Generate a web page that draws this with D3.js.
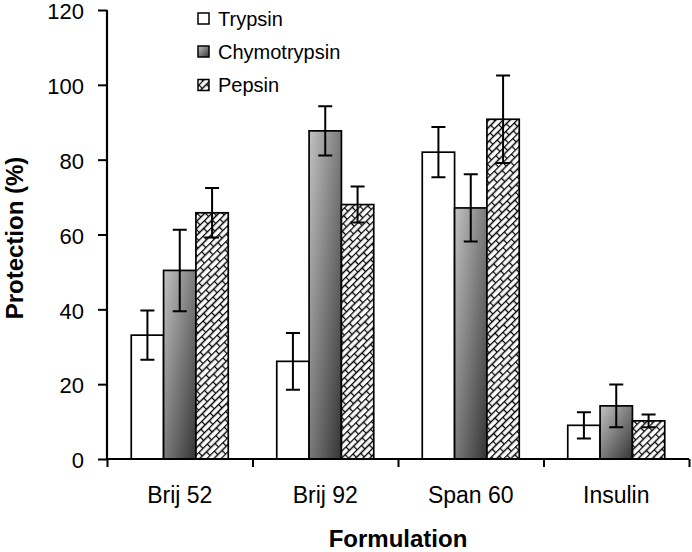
<!DOCTYPE html>
<html>
<head>
<meta charset="utf-8">
<script src="https://cdn.jsdelivr.net/npm/d3@7"></script>
<style>
  html, body { margin: 0; padding: 0; background: #fff; }
  svg { display: block; font-family: "Liberation Sans", Arial, sans-serif; }
</style>
</head>
<body>
<svg id="chart" width="692" height="552"></svg>
<script>
const categories = ["Brij 52", "Brij 92", "Span 60", "Insulin"];
const seriesNames = ["Trypsin", "Chymotrypsin", "Pepsin"];
const trypsin = [33.1, 26.1, 82.0, 9.0];
const trypsinErr = [6.6, 7.6, 6.7, 3.5];
const chymotrypsin = [50.4, 87.7, 67.1, 14.2];
const chymotrypsinErr = [10.9, 6.6, 9.0, 5.7];
const pepsin = [65.8, 68.0, 90.8, 10.2];
const pepsinErr = [6.6, 4.8, 11.7, 1.7];
const yTicks = [0, 20, 40, 60, 80, 100, 120];
const yTitle = "Protection (%)";
const xTitle = "Formulation";

(function () {
const values = [trypsin, chymotrypsin, pepsin];
const errors = [trypsinErr, chymotrypsinErr, pepsinErr];

const svg = d3.select("#chart");
const mLeft = 107, mRight = 689, mTop = 10, mBottom = 459;

const y = d3.scaleLinear().domain([0, 120]).range([mBottom, mTop]);
const x0 = d3.scaleBand().domain(categories).range([mLeft, mRight]).paddingInner(0).paddingOuter(0);
const x1 = d3.scaleBand().domain(seriesNames).range([0, x0.bandwidth()]).paddingInner(0).paddingOuter(0.75);

const defs = svg.append("defs");
const grad = defs.append("linearGradient").attr("id", "chymo")
  .attr("x1", 0).attr("y1", 0).attr("x2", 1).attr("y2", 1);
grad.append("stop").attr("offset", "0%").attr("stop-color", "#c2c2c2");
grad.append("stop").attr("offset", "100%").attr("stop-color", "#343434");

const pat = defs.append("pattern").attr("id", "pepsin")
  .attr("patternUnits", "userSpaceOnUse").attr("width", 12).attr("height", 10)
  .attr("patternTransform", "rotate(-45)");
pat.append("rect").attr("width", 12).attr("height", 10).attr("fill", "#fff");
pat.append("path")
  .attr("d", "M0,0.5H12 M0,5.5H12 M0.5,0.5V5.5 M6.5,5.5V10.5")
  .attr("stroke", "#000").attr("stroke-width", 1.3).attr("fill", "none");

const fills = ["#ffffff", "url(#chymo)", "url(#pepsin)"];

seriesNames.forEach((s, si) => {
  const g = svg.append("g");
  g.selectAll("rect").data(categories).join("rect")
    .attr("x", c => x0(c) + x1(s))
    .attr("y", (c, i) => y(values[si][i]))
    .attr("width", x1.bandwidth())
    .attr("height", (c, i) => y(0) - y(values[si][i]))
    .attr("fill", fills[si])
    .attr("stroke", "#000").attr("stroke-width", 1.7);
});

seriesNames.forEach((s, si) => {
  const g = svg.append("g").attr("stroke", "#000").attr("stroke-width", 2).attr("fill", "none");
  categories.forEach((c, i) => {
    const cx = x0(c) + x1(s) + x1.bandwidth() / 2;
    const hi = y(values[si][i] + errors[si][i]);
    const lo = y(values[si][i] - errors[si][i]);
    g.append("path").attr("d", `M${cx},${hi}V${lo}M${cx - 7},${hi}H${cx + 7}M${cx - 7},${lo}H${cx + 7}`);
  });
});

const yAxis = svg.append("g").attr("transform", `translate(${mLeft},0)`)
  .call(d3.axisLeft(y).tickValues(yTicks).tickSize(9).tickPadding(14));
yAxis.select(".domain").attr("stroke", "#000").attr("stroke-width", 2.2).attr("d", `M0,${mTop}V${mBottom}`);
yAxis.selectAll(".tick line").attr("stroke", "#000").attr("stroke-width", 2);
yAxis.selectAll(".tick text").attr("font-size", 22).attr("fill", "#000").attr("dy", "0.4em")
  .attr("font-family", "Liberation Sans, Arial, sans-serif");

const xb = d3.scaleLinear().domain([0, categories.length]).range([mLeft, mRight]);
const xAxis = svg.append("g").attr("transform", `translate(0,${mBottom})`)
  .call(d3.axisBottom(xb).tickValues(d3.range(0, categories.length + 1)).tickSize(8).tickFormat(""));
xAxis.select(".domain").attr("stroke", "#000").attr("stroke-width", 2.2).attr("d", `M${mLeft},0H${mRight}`);
xAxis.selectAll(".tick line").attr("stroke", "#000").attr("stroke-width", 2);

const xLab = svg.append("g").attr("transform", `translate(0,${mBottom})`)
  .call(d3.axisBottom(x0).tickSize(0).tickPadding(28));
xLab.select(".domain").remove();
xLab.selectAll(".tick text").attr("font-size", 23).attr("fill", "#000")
  .attr("font-family", "Liberation Sans, Arial, sans-serif");

svg.append("text").attr("x", 398).attr("y", 547).attr("text-anchor", "middle")
  .attr("font-size", 24).attr("font-weight", "bold").attr("fill", "#000").text(xTitle);
svg.append("text").attr("transform", "translate(23,238) rotate(-90)").attr("text-anchor", "middle")
  .attr("font-size", 24).attr("font-weight", "bold").attr("fill", "#000").text(yTitle);

const legendY = [18.5, 51.5, 85];
seriesNames.forEach((s, si) => {
  const g = svg.append("g").attr("transform", `translate(198,${legendY[si]})`);
  g.append("rect").attr("x", 0).attr("y", -5.5).attr("width", 11).attr("height", 11)
    .attr("fill", fills[si]).attr("stroke", "#000").attr("stroke-width", 1.5);
  g.append("text").attr("x", 20).attr("y", 7).attr("font-size", 20).attr("fill", "#000").text(s);
});
})();
</script>
</body>
</html>
